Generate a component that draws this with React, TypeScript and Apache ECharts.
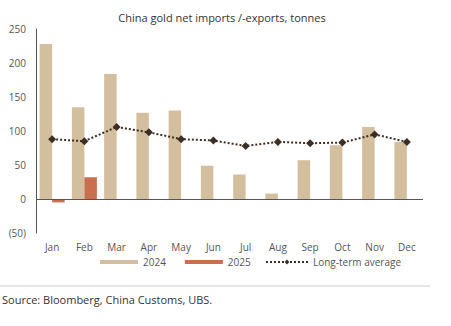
import React, { useEffect, useRef } from "react";
import * as echarts from "echarts";

const months = ["Jan", "Feb", "Mar", "Apr", "May", "Jun", "Jul", "Aug", "Sep", "Oct", "Nov", "Dec"];
const values2024 = [228, 135, 184, 127, 130, 49, 36, 8, 57, 79, 106, 84];
const values2025: (number | null)[] = [-5, 32, null, null, null, null, null, null, null, null, null, null];
const longTermAvg = [88, 85, 106, 98, 88, 86, 78, 84, 82, 83, 95, 84];
const yTicks = [-50, 0, 50, 100, 150, 200, 250];

const FONT = "'Open Sans', 'Noto Sans', sans-serif";

export default function App() {
  const ref = useRef<HTMLDivElement>(null);
  useEffect(() => {
    if (!ref.current) return;
    const chart = echarts.init(ref.current, undefined, { renderer: "svg" });
    chart.setOption({
      animation: false,
      backgroundColor: "#ffffff",
      textStyle: { fontFamily: FONT },
      title: {
        text: "China gold net imports /-exports, tonnes",
        left: 217,
        textAlign: "center",
        top: 7,
        textStyle: { fontSize: 11, fontWeight: "normal", color: "#333", fontFamily: FONT },
      },
      grid: { left: 36, right: 28, top: 29, bottom: 93, containLabel: false },
      legend: [
        {
          data: ["2024", "2025"],
          left: 95,
          top: 252,
          itemWidth: 38,
          itemHeight: 4,
          itemGap: 19,
          icon: "rect",
          textStyle: { fontSize: 10, color: "#555", fontFamily: FONT },
        },
        {
          data: ["Long-term average"],
          left: 260,
          top: 252,
          itemWidth: 42,
          itemHeight: 6,
          textStyle: { fontSize: 10, color: "#555", fontFamily: FONT },
        },
      ],
      xAxis: {
        type: "category",
        data: months,
        axisLine: { show: false },
        axisTick: { show: false },
        axisLabel: { fontSize: 10, color: "#555", margin: 9, fontFamily: FONT },
      },
      yAxis: {
        type: "value",
        min: yTicks[0],
        max: yTicks[yTicks.length - 1],
        interval: 50,
        axisLine: { show: true, lineStyle: { color: "#555", width: 1 } },
        axisTick: { show: false },
        splitLine: { show: false },
        axisLabel: {
          fontSize: 10,
          color: "#555",
          margin: 10,
          fontFamily: FONT,
          formatter: (v: number) => (v < 0 ? `(${-v})` : `${v}`),
        },
      },
      series: [
        {
          name: "2024",
          type: "bar",
          data: values2024,
          barWidth: 12.5,
          barGap: "0%",
          itemStyle: { color: "#D3BF9E" },
          markLine: {
            silent: true,
            symbol: "none",
            label: { show: false },
            lineStyle: { color: "#555", width: 1, type: "solid" },
            data: [{ yAxis: 0 }],
          },
        },
        {
          name: "2025",
          type: "bar",
          data: values2025,
          barWidth: 12.5,
          barGap: "0%",
          itemStyle: { color: "#C96F50" },
        },
        {
          name: "Long-term average",
          type: "line",
          data: longTermAvg,
          symbol: "diamond",
          symbolSize: 8,
          itemStyle: { color: "#3D2E24" },
          lineStyle: { color: "#3D2E24", width: 2, type: [2, 2] },
          z: 5,
        },
      ],
      graphic: [
        {
          type: "line",
          shape: { x1: 0, y1: 286, x2: 430, y2: 286 },
          style: { stroke: "#cccccc", lineWidth: 1 },
        },
        {
          type: "text",
          left: 2,
          top: 294,
          style: { text: "Source: Bloomberg, China Customs, UBS.", fontSize: 11, fill: "#333", fontFamily: FONT },
        },
      ],
    });
    return () => chart.dispose();
  }, []);
  return (
    <div
      ref={ref}
      style={{ position: "fixed", left: 0, top: 0, width: 451, height: 326, background: "#fff" }}
    />
  );
}
